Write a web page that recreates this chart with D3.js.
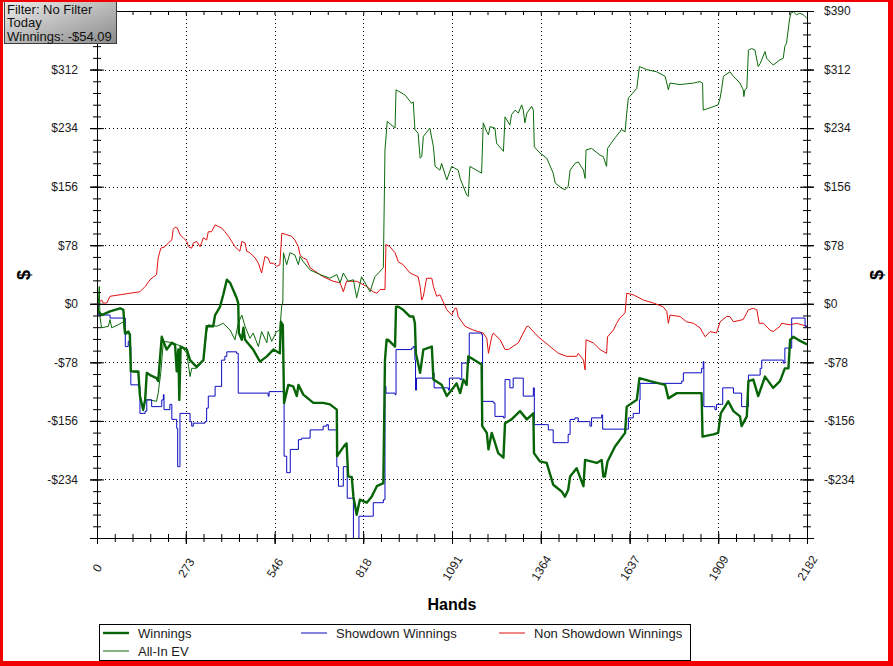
<!DOCTYPE html>
<html><head><meta charset="utf-8">
<script src="https://cdn.jsdelivr.net/npm/d3@7"></script>
<style>
html,body{margin:0;padding:0;background:#fff;}
svg{display:block;font-family:"Liberation Sans",Arial,sans-serif;}
</style></head><body>
<svg id="chart" width="893" height="666"></svg>
<script>
// ---------- data ----------
const xTickValues = [0,273,546,818,1091,1364,1637,1909,2182];
const yTickValues = [-312,-234,-156,-78,0,78,156,234,312,390];
const yLabelsLeft = [-234,-156,-78,0,78,156,234,312];
const yLabelsRight = [-234,-156,-78,0,78,156,234,312,390];
const filterLines = ["Filter: No Filter","Today","Winnings: -$54.09"];
const seriesNames = ["Winnings","Showdown Winnings","Non Showdown Winnings","All-In EV"];
const xTitle = "Hands";
const yTitle = "$";

const winnings = [[0,0],[4,-10],[14,-15],[40,-10],[71,-6],[81,-8],[86,-39],[96,-37],[101,-41],[104,-90],
[127,-90],[132,-123],[142,-141],[148,-128],[153,-92],[163,-95],[183,-99],[188,-103],[199,-44],[214,-61],
[230,-52],[240,-55],[245,-90],[250,-61],[253,-128],[257,-57],[276,-61],[286,-75],[306,-84],[327,-75],
[337,-30],[357,-30],[363,-15],[378,-4],[388,12],[399,32],[409,28],[429,8],[434,1],[436,-39],
[445,-48],[450,-32],[455,-48],[480,-61],[501,-77],[522,-70],[542,-61],[562,-66],[565,-24],[571,-28],
[575,-132],[588,-108],[603,-110],[614,-123],[619,-108],[634,-121],[665,-132],[695,-132],[716,-134],[737,-141],
[738,-203],[752,-194],[762,-188],[767,-186],[772,-230],[783,-231],[788,-257],[798,-281],[808,-261],[829,-265],
[844,-257],[860,-243],[880,-239],[885,-75],[890,-48],[895,-48],[916,-57],[919,-4],[926,-4],[941,-8],
[962,-17],[972,-17],[977,-26],[980,-66],[993,-92],[1003,-61],[1029,-57],[1034,-101],[1059,-108],[1075,-123],
[1095,-112],[1105,-106],[1116,-119],[1126,-101],[1136,-108],[1141,-70],[1167,-77],[1182,-81],[1184,-163],[1198,-172],
[1203,-194],[1213,-172],[1223,-185],[1233,-199],[1249,-205],[1254,-159],[1274,-154],[1300,-143],[1321,-154],[1341,-146],
[1343,-199],[1361,-210],[1382,-212],[1402,-241],[1428,-250],[1438,-257],[1448,-248],[1454,-230],[1474,-219],[1495,-243],
[1500,-208],[1536,-212],[1551,-208],[1556,-230],[1561,-230],[1569,-210],[1592,-190],[1623,-172],[1628,-137],[1659,-128],
[1667,-99],[1700,-103],[1746,-108],[1756,-126],[1782,-119],[1823,-119],[1858,-119],[1861,-177],[1894,-174],[1909,-172],
[1917,-146],[1940,-130],[1956,-143],[1976,-150],[1981,-163],[1997,-150],[2002,-103],[2017,-101],[2032,-123],[2053,-97],
[2078,-112],[2099,-103],[2114,-86],[2125,-86],[2130,-48],[2140,-44],[2155,-48],[2182,-54.09]];

const allInEV = [[0,0],[4,1],[7,23],[9,-17],[14,-32],[35,-30],[40,-21],[45,-32],[65,-28],[81,-24],
[86,-41],[101,-39],[104,-90],[127,-92],[132,-123],[142,-143],[148,-128],[163,-128],[183,-130],[188,-119],
[196,-92],[204,-50],[234,-52],[260,-57],[276,-66],[286,-97],[291,-86],[306,-86],[327,-75],[337,-37],
[342,-28],[368,-30],[388,-26],[409,-35],[424,-48],[434,-26],[445,-15],[455,-30],[470,-46],[480,-39],
[496,-57],[506,-37],[522,-52],[526,-37],[537,-50],[552,-37],[562,-35],[568,-1],[571,1],[573,68],
[583,52],[593,68],[608,65],[619,52],[624,63],[634,56],[655,45],[685,39],[716,34],[737,39],
[747,28],[757,41],[772,30],[788,32],[798,8],[813,36],[839,16],[854,36],[880,48],[885,205],
[892,243],[916,234],[919,285],[947,278],[967,267],[972,269],[977,232],[987,227],[993,194],[998,196],
[1003,223],[1023,234],[1034,209],[1039,183],[1054,178],[1059,187],[1075,165],[1090,183],[1110,178],[1116,167],
[1136,145],[1141,143],[1146,183],[1182,174],[1187,241],[1198,229],[1203,225],[1208,236],[1223,234],[1228,214],
[1249,203],[1254,249],[1269,238],[1274,252],[1285,258],[1295,254],[1305,265],[1310,258],[1315,241],[1321,254],
[1336,263],[1341,258],[1344,209],[1361,201],[1382,194],[1402,174],[1408,161],[1428,154],[1438,152],[1448,156],
[1454,178],[1469,187],[1479,189],[1495,178],[1500,167],[1503,205],[1520,207],[1546,198],[1556,196],[1566,183],
[1569,207],[1592,221],[1612,232],[1623,229],[1628,254],[1633,274],[1659,287],[1667,316],[1689,312],[1720,309],
[1746,303],[1756,285],[1761,294],[1792,292],[1833,294],[1853,296],[1861,294],[1863,258],[1884,261],[1909,265],
[1915,274],[1920,287],[1925,303],[1945,309],[1956,303],[1976,294],[1986,285],[1988,276],[1991,285],[1997,287],
[2002,338],[2012,340],[2022,338],[2032,316],[2038,320],[2053,336],[2058,327],[2078,318],[2099,325],[2109,327],
[2114,343],[2119,347],[2128,378],[2132,387],[2140,389],[2150,385],[2160,387],[2171,385],[2182,380]];

const showdown = [[0,0],[4,-15],[40,-19],[81,-19],[87,-57],[96,-50],[101,-57],[104,-108],[127,-110],[132,-146],
[142,-146],[148,-143],[153,-128],[168,-137],[194,-137],[199,-128],[204,-121],[206,-141],[224,-134],[230,-154],
[240,-154],[245,-166],[248,-217],[253,-217],[255,-146],[276,-146],[286,-157],[291,-163],[296,-159],[332,-157],
[337,-139],[342,-123],[352,-123],[363,-110],[373,-110],[383,-75],[393,-70],[399,-64],[429,-66],[434,-119],
[526,-123],[529,-117],[568,-117],[575,-203],[583,-225],[593,-225],[594,-194],[608,-194],[619,-181],[629,-179],
[655,-168],[695,-163],[706,-161],[711,-168],[735,-168],[737,-217],[742,-243],[752,-243],[757,-217],[767,-217],
[769,-259],[783,-259],[788,-322],[803,-322],[805,-283],[844,-283],[849,-265],[880,-261],[885,-110],[888,-119],
[916,-121],[919,-61],[967,-59],[972,-57],[977,-75],[979,-115],[982,-99],[1029,-99],[1034,-92],[1036,-112],
[1080,-115],[1083,-99],[1116,-101],[1121,-79],[1141,-77],[1144,-39],[1182,-41],[1185,-130],[1218,-132],[1223,-150],
[1249,-152],[1254,-101],[1269,-112],[1279,-99],[1305,-99],[1310,-123],[1336,-123],[1341,-112],[1344,-161],[1382,-161],
[1387,-168],[1397,-168],[1402,-185],[1443,-185],[1448,-174],[1454,-154],[1469,-152],[1479,-157],[1510,-157],[1515,-163],
[1520,-152],[1546,-152],[1551,-148],[1554,-167],[1623,-167],[1633,-152],[1648,-146],[1667,-128],[1669,-106],[1797,-103],
[1802,-92],[1853,-92],[1858,-86],[1863,-77],[1865,-137],[1894,-137],[1899,-141],[1904,-134],[1920,-134],[1923,-112],
[1950,-112],[1956,-119],[1976,-119],[1981,-137],[1997,-137],[2002,-95],[2032,-95],[2038,-86],[2043,-75],[2104,-75],
[2109,-79],[2114,-59],[2130,-59],[2135,-19],[2170,-19],[2176,-30],[2182,-30]];

const nonShowdown = [[0,0],[4,1],[14,5],[19,1],[30,1],[40,10],[71,12],[101,14],[132,16],[148,23],
[163,32],[183,39],[188,61],[196,74],[209,76],[219,81],[230,85],[234,99],[240,102],[247,101],
[255,92],[265,88],[276,83],[281,76],[291,74],[296,81],[306,83],[317,76],[327,88],[337,85],
[342,96],[352,96],[363,105],[373,103],[383,101],[393,96],[404,90],[414,83],[424,76],[439,70],
[445,83],[455,81],[460,70],[470,68],[486,61],[496,54],[506,41],[516,63],[526,61],[532,54],
[542,54],[552,50],[562,52],[568,94],[583,92],[598,90],[608,85],[619,76],[624,65],[634,61],
[644,59],[655,48],[695,36],[726,30],[747,28],[757,16],[767,30],[798,30],[829,23],[849,16],
[860,14],[870,19],[885,19],[888,79],[900,76],[916,68],[926,56],[941,52],[962,41],[987,36],
[993,23],[998,5],[1003,10],[1013,34],[1029,34],[1034,23],[1044,10],[1054,12],[1075,-8],[1090,-15],
[1100,-6],[1105,-6],[1110,-17],[1131,-30],[1156,-35],[1187,-39],[1198,-46],[1203,-66],[1213,-44],[1218,-39],
[1239,-48],[1254,-61],[1264,-61],[1295,-52],[1310,-39],[1321,-30],[1326,-30],[1356,-44],[1387,-55],[1418,-66],
[1443,-70],[1474,-70],[1479,-66],[1490,-72],[1495,-75],[1500,-88],[1503,-48],[1525,-52],[1546,-61],[1566,-66],
[1569,-44],[1587,-35],[1597,-26],[1607,-19],[1623,-12],[1628,14],[1648,12],[1679,5],[1710,1],[1740,-4],
[1751,-10],[1756,-26],[1761,-15],[1792,-17],[1812,-24],[1833,-26],[1853,-32],[1869,-44],[1884,-37],[1904,-39],
[1915,-24],[1935,-17],[1945,-17],[1956,-24],[1986,-21],[1997,-12],[2002,-8],[2017,-6],[2028,-8],[2035,-26],
[2048,-26],[2068,-35],[2078,-37],[2099,-30],[2104,-26],[2130,-28],[2150,-26],[2182,-30]];

// ---------- layout ----------
const W = 893, H = 666;
const P = {left:97, right:807, top:11, bottom:538};
const svg = d3.select("#chart");
const x = d3.scaleLinear().domain([0,2182]).range([P.left,P.right]);
const y = d3.scaleLinear().domain([-312,390]).range([P.bottom,P.top]);
const xMinor = d3.range(0,40.5).map(i => i*2182/40);
const yMinor = d3.range(0,45.5).map(i => -312 + i*15.6);
const ink = "#1a1a1a";

svg.append("rect").attr("width",W).attr("height",H).attr("fill","#fff");

const defs = svg.append("defs");
defs.append("clipPath").attr("id","plotclip").append("rect")
  .attr("x",P.left).attr("y",P.top).attr("width",P.right-P.left).attr("height",P.bottom-P.top);
const grad = defs.append("linearGradient").attr("id","fgrad")
  .attr("x1","0").attr("y1","0").attr("x2","1").attr("y2","1");
grad.append("stop").attr("offset","0%").attr("stop-color","#ececec");
grad.append("stop").attr("offset","100%").attr("stop-color","#8a8a8a");

// grid
const grid = svg.append("g");
grid.selectAll("line.vx").data(xTickValues.slice(1,-1)).join("line")
  .attr("x1",d=>Math.round(x(d))+0.5).attr("x2",d=>Math.round(x(d))+0.5)
  .attr("y1",P.top).attr("y2",P.bottom)
  .attr("stroke","#000").attr("stroke-width",1).attr("stroke-dasharray","1,3");
grid.selectAll("line.hy").data(yTickValues.filter(d=>d!==0 && d!==-312 && d!==390)).join("line")
  .attr("y1",d=>Math.round(y(d))+0.5).attr("y2",d=>Math.round(y(d))+0.5)
  .attr("x1",P.left).attr("x2",P.right)
  .attr("stroke","#000").attr("stroke-width",1).attr("stroke-dasharray","1,3");
svg.append("line").attr("x1",P.left).attr("x2",P.right)
  .attr("y1",Math.round(y(0))+0.5).attr("y2",Math.round(y(0))+0.5)
  .attr("stroke","#000").attr("stroke-width",1);

// series
const plot = svg.append("g").attr("clip-path","url(#plotclip)");
const line = d3.line().x(d=>x(d[0])).y(d=>y(d[1]));
const stepLine = d3.line().x(d=>x(d[0])).y(d=>y(d[1])).curve(d3.curveStepAfter);
plot.append("path").datum(nonShowdown).attr("d",line)
  .attr("fill","none").attr("stroke","#e01010").attr("stroke-width",1);
plot.append("path").datum(allInEV).attr("d",line)
  .attr("fill","none").attr("stroke","#0b6b0b").attr("stroke-width",1);
plot.append("path").datum(showdown).attr("d",stepLine)
  .attr("fill","none").attr("stroke","#0a0ac0").attr("stroke-width",1);
plot.append("path").datum(winnings).attr("d",line)
  .attr("fill","none").attr("stroke","#076407").attr("stroke-width",2.4).attr("stroke-linejoin","round");

// axes
const money = d => d < 0 ? "-$" + (-d) : "$" + d;
function styleAxis(g){
  g.attr("font-family",null).attr("font-size",12);
  g.selectAll(".domain").attr("stroke","#000");
  g.selectAll(".tick line").attr("stroke","#000");
  g.selectAll(".tick text").attr("fill",ink);
  return g;
}
function crossTicks(axisMaker, values, size, tr){
  svg.append("g").attr("transform",tr)
    .call(axisMaker().tickValues(values).tickSize(size).tickSizeOuter(0).tickFormat(""))
    .call(g=>g.select(".domain").remove()).call(styleAxis);
  svg.append("g").attr("transform",tr)
    .call(axisMaker().tickValues(values).tickSize(-size).tickSizeOuter(0).tickFormat(""))
    .call(g=>g.select(".domain").remove()).call(styleAxis);
}
// left
crossTicks(()=>d3.axisLeft(y), yMinor, 4, `translate(${P.left},0)`);
crossTicks(()=>d3.axisLeft(y), yTickValues, 7, `translate(${P.left},0)`);
svg.append("g").attr("transform",`translate(${P.left},0)`)
  .call(d3.axisLeft(y).tickValues(yLabelsLeft).tickSize(7).tickSizeOuter(0).tickPadding(12).tickFormat(money))
  .call(styleAxis);
svg.append("line").attr("x1",P.left+0.5).attr("x2",P.left+0.5).attr("y1",P.top).attr("y2",P.bottom).attr("stroke","#000");
// right
crossTicks(()=>d3.axisRight(y), yMinor, 4, `translate(${P.right},0)`);
crossTicks(()=>d3.axisRight(y), yTickValues, 7, `translate(${P.right},0)`);
svg.append("g").attr("transform",`translate(${P.right},0)`)
  .call(d3.axisRight(y).tickValues(yLabelsRight).tickSize(7).tickSizeOuter(0).tickPadding(10).tickFormat(money))
  .call(styleAxis);
// bottom
crossTicks(()=>d3.axisBottom(x), xMinor, 4, `translate(0,${P.bottom})`);
crossTicks(()=>d3.axisBottom(x), xTickValues, 6, `translate(0,${P.bottom})`);
const xa = svg.append("g").attr("transform",`translate(0,${P.bottom})`)
  .call(d3.axisBottom(x).tickValues(xTickValues).tickSize(6).tickSizeOuter(0).tickFormat(d3.format("d")))
  .call(styleAxis);
xa.selectAll(".tick text").attr("y",null).attr("dy",null)
  .attr("text-anchor","middle").attr("dominant-baseline","central")
  .attr("transform","translate(0,30) rotate(-58)");
// top
svg.append("g").attr("transform",`translate(0,${P.top})`)
  .call(d3.axisBottom(x).tickValues(xMinor).tickSize(4).tickSizeOuter(0).tickFormat(""))
  .call(styleAxis);

// axis titles
svg.append("text").attr("x",(P.left+P.right)/2).attr("y",610).attr("text-anchor","middle")
  .attr("font-size",16).attr("font-weight","bold").attr("fill","#000").text(xTitle);
[24,877].forEach(cx=>{
  svg.append("text").attr("transform",`translate(${cx},275) rotate(-90)`)
    .attr("text-anchor","middle").attr("dominant-baseline","central")
    .attr("font-size",18).attr("font-weight","bold").attr("fill","#000").text(yTitle);
});

// legend
const lg = svg.append("g");
lg.append("rect").attr("x",99.5).attr("y",624.5).attr("width",591).attr("height",36)
  .attr("fill","#fff").attr("stroke","#000").attr("stroke-width",1);
const legendDefs = [
  {name:seriesNames[0], color:"#076407", w:2.4, lx:103, ty:633},
  {name:seriesNames[1], color:"#0a0ac0", w:1, lx:301, ty:633},
  {name:seriesNames[2], color:"#e01010", w:1, lx:499, ty:633},
  {name:seriesNames[3], color:"#0b6b0b", w:1, lx:103, ty:651}
];
legendDefs.forEach(d=>{
  lg.append("line").attr("x1",d.lx).attr("x2",d.lx+26).attr("y1",d.ty).attr("y2",d.ty)
    .attr("stroke",d.color).attr("stroke-width",d.w);
  lg.append("text").attr("x",d.lx+35).attr("y",d.ty).attr("dominant-baseline","central")
    .attr("font-size",13).attr("fill",ink).text(d.name);
});

// filter box
const fb = svg.append("g");
fb.append("rect").attr("x",4.5).attr("y",1.5).attr("width",112).attr("height",42)
  .attr("fill","url(#fgrad)").attr("stroke","#3c3c3c").attr("stroke-width",1);
filterLines.forEach((t,i)=>{
  fb.append("text").attr("x",7).attr("y",13.5+i*13.6).attr("font-size",13)
    .attr("fill","#111").text(t);
});

// red frame
const red = "#f20000";
svg.append("rect").attr("x",0).attr("y",0).attr("width",W).attr("height",2).attr("fill",red);
svg.append("rect").attr("x",0).attr("y",0).attr("width",3).attr("height",H).attr("fill",red);
svg.append("rect").attr("x",888).attr("y",0).attr("width",5).attr("height",H).attr("fill",red);
svg.append("rect").attr("x",0).attr("y",661).attr("width",W).attr("height",5).attr("fill",red);
</script>
</body></html>
